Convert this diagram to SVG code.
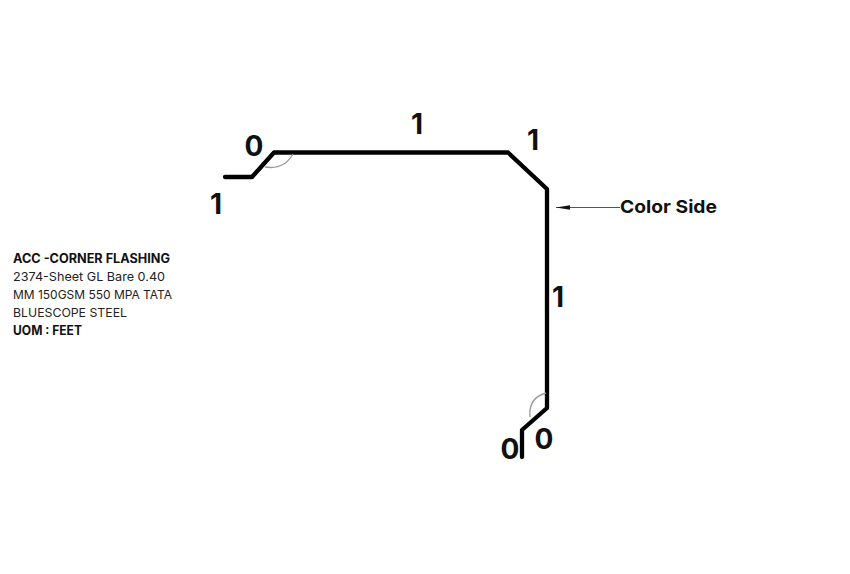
<svg xmlns="http://www.w3.org/2000/svg" width="850" height="574" viewBox="0 0 850 574">
<style>
text{font-family:"Inter","Liberation Sans",sans-serif;fill:#111}
.d{font-size:28px;font-weight:700;text-anchor:middle}
.s{font-size:12px;fill:#222}
.b{font-size:12.500px;font-weight:700;fill:#111}
.arc{fill:none;stroke:#999;stroke-width:1.300}
</style>
<defs><marker id="ah" markerWidth="14" markerHeight="6" refX="14" refY="3" orient="auto" markerUnits="userSpaceOnUse"><path d="M0 .8L14 3L0 5.200Z" fill="#111"/></marker></defs>
<rect width="850" height="574" fill="#fff"/>
<g id="connectors">
<path id="profile" d="M225 177H252L274 152.500H508L547 189V408L522 430V457" fill="none" stroke="#000" stroke-width="4.300" stroke-linecap="round" stroke-linejoin="round"/>
<path class="arc" d="M265 167Q284 170 293 154"/>
<path class="arc" d="M530 417Q528 398 546 393"/>
<path d="M620 207.500H556" fill="none" stroke="#555" stroke-width="1.200" marker-end="url(#ah)"/>
</g>
<g id="dimensions">
<text class="d" x="254" y="156">0</text>
<text class="d" x="417" y="134">1</text>
<text class="d" x="533" y="150">1</text>
<text class="d" x="216" y="214">1</text>
<text class="d" x="558" y="307">1</text>
<text class="d" x="544" y="449">0</text>
<text class="d" x="510" y="459">0</text>
</g>
<g id="color-side"><text x="620" y="212.500" font-size="18" font-weight="700" textLength="97" lengthAdjust="spacingAndGlyphs">Color Side</text></g>
<g id="info">
<text class="b" x="13" y="262.500" textLength="157" lengthAdjust="spacingAndGlyphs">ACC -CORNER FLASHING</text>
<text class="s" x="13" y="280.500" textLength="152" lengthAdjust="spacingAndGlyphs">2374-Sheet GL Bare 0.40</text>
<text class="s" x="13" y="298.500" textLength="159" lengthAdjust="spacingAndGlyphs">MM 150GSM 550 MPA TATA</text>
<text class="s" x="13" y="316.500" textLength="114" lengthAdjust="spacingAndGlyphs">BLUESCOPE STEEL</text>
<text class="b" x="13" y="334.500" textLength="69" lengthAdjust="spacingAndGlyphs">UOM : FEET</text>
</g>
</svg>
